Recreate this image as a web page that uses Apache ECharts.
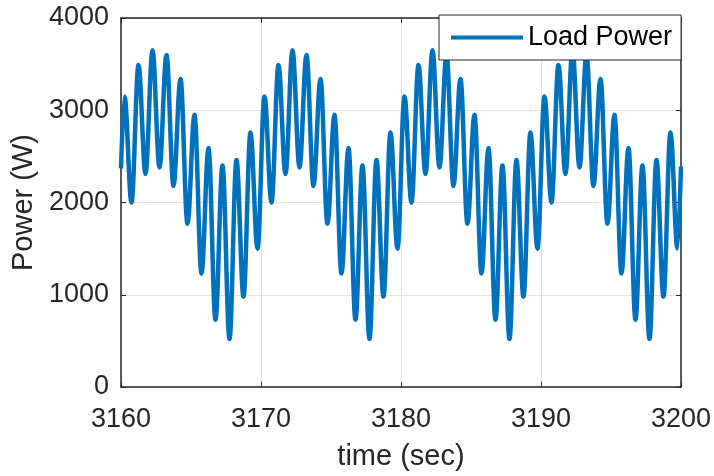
<!DOCTYPE html>
<html>
<head>
<meta charset="utf-8">
<script src="https://cdn.jsdelivr.net/npm/echarts@6/dist/echarts.min.js"></script>
<style>html,body{margin:0;padding:0;background:#fff}#c{width:714px;height:476px}</style>
</head>
<body>
<div id="c"></div>
<script>
// time (sec) of each point (peaks at .25, troughs at .75)
const times = [
  3160,
  3160.25, 3160.75, 3161.25, 3161.75, 3162.25, 3162.75, 3163.25, 3163.75, 3164.25, 3164.75,
  3165.25, 3165.75, 3166.25, 3166.75, 3167.25, 3167.75, 3168.25, 3168.75, 3169.25, 3169.75,
  3170.25, 3170.75, 3171.25, 3171.75, 3172.25, 3172.75, 3173.25, 3173.75, 3174.25, 3174.75,
  3175.25, 3175.75, 3176.25, 3176.75, 3177.25, 3177.75, 3178.25, 3178.75, 3179.25, 3179.75,
  3180.25, 3180.75, 3181.25, 3181.75, 3182.25, 3182.75, 3183.25, 3183.75, 3184.25, 3184.75,
  3185.25, 3185.75, 3186.25, 3186.75, 3187.25, 3187.75, 3188.25, 3188.75, 3189.25, 3189.75,
  3190.25, 3190.75, 3191.25, 3191.75, 3192.25, 3192.75, 3193.25, 3193.75, 3194.25, 3194.75,
  3195.25, 3195.75, 3196.25, 3196.75, 3197.25, 3197.75, 3198.25, 3198.75, 3199.25, 3199.75,
  3200
];
// Load power (W) at those times
const loadPower = [
  2370,
  3150, 2000, 3490, 2310, 3650, 2380, 3600, 2180, 3340, 1770,
  2950, 1230, 2590, 730, 2400, 520, 2460, 980, 2760, 1500,
  3150, 2000, 3490, 2310, 3650, 2380, 3600, 2180, 3340, 1770,
  2950, 1230, 2590, 730, 2400, 520, 2460, 980, 2760, 1500,
  3150, 2000, 3490, 2310, 3650, 2380, 3600, 2180, 3340, 1770,
  2950, 1230, 2590, 730, 2400, 520, 2460, 980, 2760, 1500,
  3150, 2000, 3490, 2310, 3650, 2380, 3600, 2180, 3340, 1770,
  2950, 1230, 2590, 730, 2400, 520, 2460, 980, 2760, 1500,
  2390
];
const xTicks = [3160, 3170, 3180, 3190, 3200];
const yTicks = [0, 1000, 2000, 3000, 4000];
const seriesName = 'Load Power';

const chart = echarts.init(document.getElementById('c'), null, {renderer: 'canvas'});
const FONT = "'Liberation Sans', Arial, Helvetica, sans-serif";
const AX = '#262626';
const axisCommon = {
  axisLine: {show: true, onZero: false, lineStyle: {color: AX, width: 1.5}},
  axisTick: {show: true, inside: true, length: 5, lineStyle: {color: AX, width: 1}}
};
chart.setOption({
  animation: false,
  backgroundColor: '#ffffff',
  grid: {left: 121, right: 33, top: 18, bottom: 88},
  legend: {
    left: 439, top: 15,
    padding: [9, 9, 9, 12],
    backgroundColor: '#ffffff',
    borderColor: AX, borderWidth: 1, borderRadius: 0,
    itemWidth: 72, itemHeight: 4,
    textStyle: {fontFamily: FONT, fontSize: 27, color: '#000000'},
    data: [{name: seriesName, icon: 'rect', itemStyle: {color: '#0072BD'}}]
  },
  xAxis: [{
    type: 'value', min: xTicks[0], max: xTicks[xTicks.length - 1], interval: 10,
    name: 'time (sec)', nameLocation: 'middle', nameGap: 55,
    nameTextStyle: {fontFamily: FONT, fontSize: 29, color: AX},
    ...axisCommon,
    axisLabel: {fontFamily: FONT, fontSize: 27, color: AX, margin: 19, formatter: v => String(v)},
    splitLine: {show: true, lineStyle: {color: '#e3e3e3', width: 1}}
  }, {
    type: 'value', position: 'top', min: xTicks[0], max: xTicks[xTicks.length - 1], interval: 10,
    ...axisCommon, axisLabel: {show: false}, splitLine: {show: false}
  }],
  yAxis: [{
    type: 'value', min: yTicks[0], max: yTicks[yTicks.length - 1], interval: 1000,
    name: 'Power (W)', nameLocation: 'middle', nameGap: 66,
    nameTextStyle: {fontFamily: FONT, fontSize: 29, color: AX},
    ...axisCommon,
    axisLabel: {fontFamily: FONT, fontSize: 27, color: AX, margin: 12, formatter: v => String(v)},
    splitLine: {show: true, lineStyle: {color: '#e3e3e3', width: 1}}
  }, {
    type: 'value', position: 'right', min: yTicks[0], max: yTicks[yTicks.length - 1], interval: 1000,
    ...axisCommon, axisLabel: {show: false}, splitLine: {show: false}
  }],
  series: [{
    name: seriesName,
    type: 'line',
    data: times.map((t, i) => [t, loadPower[i]]),
    showSymbol: false, symbol: 'none',
    smooth: 0.36, smoothMonotone: 'x',
    clip: true,
    lineStyle: {color: '#0072BD', width: 4.5},
    itemStyle: {color: '#0072BD'}
  }]
});
</script>
</body>
</html>
